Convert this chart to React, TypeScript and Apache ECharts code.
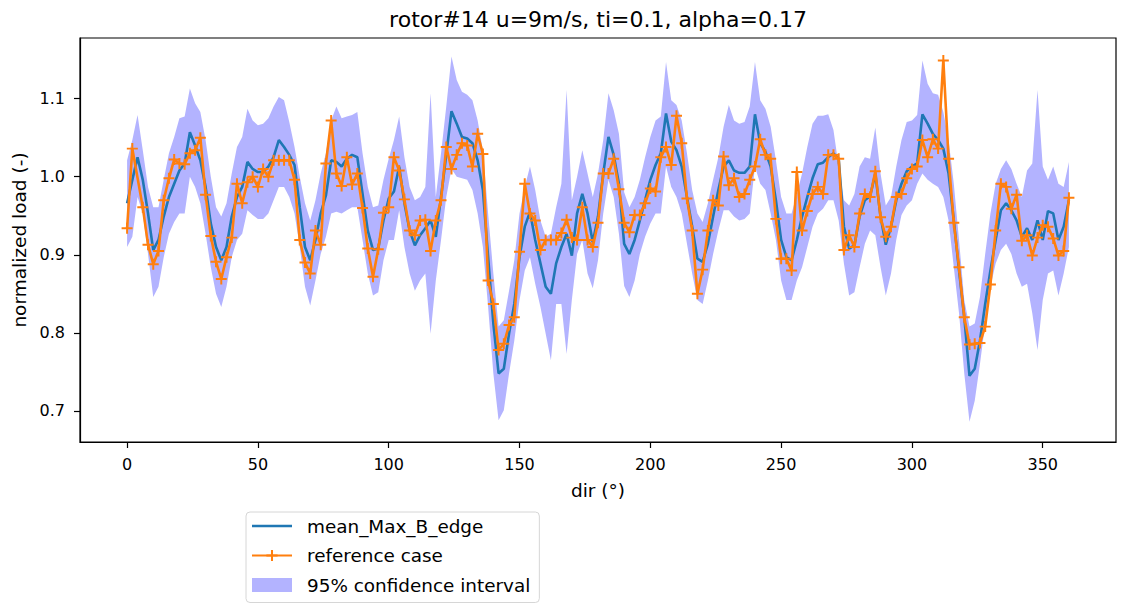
import React, { useEffect, useRef } from "react";
import * as echarts from "echarts";

// wind direction (deg)
const DIR = [
  0, 2, 4, 6, 8, 10, 12, 14, 16, 18,
  20, 22, 24, 26, 28, 30, 32, 34, 36, 38,
  40, 42, 44, 46, 48, 50, 52, 54, 56, 58,
  60, 62, 64, 66, 68, 70, 72, 74, 76, 78,
  80, 82, 84, 86, 88, 90, 92, 94, 96, 98,
  100, 102, 104, 106, 108, 110, 112, 114, 116, 118,
  120, 122, 124, 126, 128, 130, 132, 134, 136, 138,
  140, 142, 144, 146, 148, 150, 152, 154, 156, 158,
  160, 162, 164, 166, 168, 170, 172, 174, 176, 178,
  180, 182, 184, 186, 188, 190, 192, 194, 196, 198,
  200, 202, 204, 206, 208, 210, 212, 214, 216, 218,
  220, 222, 224, 226, 228, 230, 232, 234, 236, 238,
  240, 242, 244, 246, 248, 250, 252, 254, 256, 258,
  260, 262, 264, 266, 268, 270, 272, 274, 276, 278,
  280, 282, 284, 286, 288, 290, 292, 294, 296, 298,
  300, 302, 304, 306, 308, 310, 312, 314, 316, 318,
  320, 322, 324, 326, 328, 330, 332, 334, 336, 338,
  340, 342, 344, 346, 348, 350, 352, 354, 356, 358,
  360,
];

const MEAN = [
  0.966, 0.996, 1.025, 0.996, 0.953, 0.906, 0.919, 0.949, 0.974, 0.991,
  1.008, 1.017, 1.057, 1.040, 1.021, 0.987, 0.940, 0.910, 0.893, 0.910,
  0.949, 0.974, 0.987, 1.019, 1.010, 1.006, 1.006, 1.013, 1.025, 1.047,
  1.038, 1.028, 1.015, 0.961, 0.910, 0.893, 0.919, 0.953, 0.976, 1.021,
  1.019, 1.013, 1.023, 1.028, 1.025, 0.978, 0.931, 0.906, 0.908, 0.944,
  0.972, 0.981, 1.013, 0.966, 0.931, 0.912, 0.925, 0.934, 0.944, 0.923,
  0.974, 1.028, 1.084, 1.068, 1.051, 1.049, 1.043, 1.021, 0.983, 0.897,
  0.812, 0.748, 0.754, 0.799, 0.837, 0.897, 0.936, 0.955, 0.919, 0.889,
  0.859, 0.850, 0.889, 0.910, 0.927, 0.899, 0.953, 0.978, 0.953, 0.916,
  0.949, 1.004, 1.051, 1.028, 0.991, 0.914, 0.901, 0.919, 0.944, 0.970,
  0.996, 1.015, 1.030, 1.081, 1.045, 1.034, 1.013, 0.974, 0.936, 0.895,
  0.891, 0.914, 0.949, 0.983, 1.013, 1.021, 1.008, 1.005, 1.005, 1.013,
  1.080, 1.043, 1.032, 1.013, 0.970, 0.919, 0.897, 0.893, 0.919, 0.949,
  0.974, 0.998, 1.016, 1.018, 1.025, 1.030, 1.023, 0.936, 0.908, 0.912,
  0.949, 0.970, 0.975, 1.004, 0.949, 0.913, 0.936, 0.970, 0.991, 1.007,
  1.013, 1.017, 1.080, 1.068, 1.055, 1.047, 1.036, 1.004, 0.944, 0.880,
  0.820, 0.745, 0.754, 0.790, 0.837, 0.880, 0.919, 0.957, 0.966, 0.957,
  0.944, 0.923, 0.934, 0.919, 0.944, 0.919, 0.956, 0.953, 0.919, 0.936,
  0.970,
];

// reference case (no sample visible at 4 deg)
const REF = [
  0.934, 1.036, null, 0.961, 0.913, 0.888, 0.905, 0.970, 0.998, 1.022,
  1.017, 1.016, 1.030, 1.034, 1.050, 0.977, 0.924, 0.891, 0.869, 0.897,
  0.922, 0.991, 0.966, 0.993, 1.000, 0.987, 1.010, 1.000, 1.021, 1.021,
  1.021, 1.021, 0.996, 0.919, 0.890, 0.876, 0.931, 0.913, 1.017, 1.072,
  1.004, 0.988, 1.025, 0.990, 1.004, 0.960, 0.908, 0.872, 0.907, 0.954,
  0.961, 1.025, 1.008, 0.971, 0.931, 0.925, 0.944, 0.945, 0.905, 0.944,
  0.970, 1.038, 1.010, 1.028, 1.043, 1.040, 1.013, 1.055, 1.029, 0.867,
  0.837, 0.778, 0.786, 0.810, 0.820, 0.904, 0.991, 0.953, 0.944, 0.906,
  0.919, 0.919, 0.919, 0.928, 0.945, 0.922, 0.919, 0.961, 0.919, 0.910,
  0.941, 1.004, 1.004, 1.023, 0.984, 0.941, 0.929, 0.951, 0.951, 0.966,
  0.985, 0.981, 1.025, 1.038, 1.015, 1.078, 1.043, 0.972, 0.931, 0.850,
  0.881, 0.931, 0.970, 0.963, 1.026, 0.989, 0.998, 0.974, 0.978, 0.996,
  1.013, 1.048, 1.028, 1.023, 0.946, 0.895, 0.895, 0.880, 1.006, 0.931,
  0.956, 0.978, 0.987, 0.978, 1.028, 1.028, 1.023, 0.906, 0.925, 0.910,
  0.953, 0.978, 0.974, 1.007, 0.948, 0.923, 0.936, 0.974, 0.978, 0.998,
  1.010, 1.013, 1.047, 1.025, 1.048, 1.036, 1.149, 1.023, 0.941, 0.884,
  0.820, 0.785, 0.786, 0.787, 0.808, 0.862, 0.931, 0.991, 0.987, 0.959,
  0.977, 0.918, 0.925, 0.899, 0.922, 0.938, 0.936, 0.921, 0.899, 0.905,
  0.973,
];

const UPPER = [
  1.021, 1.047, 1.079, 1.034, 0.987, 0.961, 0.961, 0.996, 1.030, 1.051,
  1.075, 1.077, 1.113, 1.094, 1.083, 1.047, 1.000, 0.961, 0.949, 0.966,
  1.004, 1.038, 1.051, 1.087, 1.072, 1.066, 1.068, 1.075, 1.090, 1.102,
  1.098, 1.070, 1.038, 1.000, 0.966, 0.944, 0.970, 1.004, 1.030, 1.072,
  1.090, 1.075, 1.077, 1.079, 1.083, 1.030, 0.987, 0.961, 0.963, 0.996,
  1.023, 1.047, 1.077, 1.025, 0.987, 0.970, 0.974, 0.987, 1.107, 0.974,
  1.030, 1.090, 1.154, 1.124, 1.109, 1.105, 1.098, 1.072, 1.034, 0.953,
  0.876, 0.808, 0.816, 0.854, 0.893, 0.953, 0.987, 1.013, 0.983, 0.944,
  0.923, 0.927, 0.961, 0.991, 1.111, 0.970, 1.000, 1.034, 1.004, 0.974,
  1.004, 1.047, 1.107, 1.085, 1.055, 0.980, 0.961, 0.974, 0.996, 1.025,
  1.051, 1.072, 1.077, 1.147, 1.098, 1.092, 1.072, 1.030, 0.983, 0.953,
  0.942, 0.966, 0.996, 1.025, 1.064, 1.092, 1.072, 1.068, 1.070, 1.090,
  1.147, 1.098, 1.087, 1.064, 1.021, 0.974, 0.953, 0.953, 0.978, 1.004,
  1.038, 1.068, 1.078, 1.078, 1.080, 1.060, 1.013, 0.970, 0.963, 0.978,
  1.013, 1.025, 1.023, 1.063, 1.004, 0.963, 0.974, 1.013, 1.047, 1.070,
  1.072, 1.079, 1.149, 1.119, 1.107, 1.105, 1.083, 1.047, 0.991, 0.919,
  0.842, 0.808, 0.812, 0.846, 0.901, 0.953, 0.991, 1.010, 1.021, 1.010,
  0.991, 0.974, 1.008, 1.017, 1.111, 1.013, 0.996, 1.013, 0.991, 0.987,
  1.019,
];

const LOWER = [
  0.910, 0.923, 0.974, 0.953, 0.901, 0.846, 0.859, 0.897, 0.927, 0.942,
  0.953, 0.953, 1.000, 0.987, 0.966, 0.927, 0.884, 0.850, 0.833, 0.859,
  0.897, 0.919, 0.927, 0.957, 0.951, 0.946, 0.946, 0.953, 0.970, 0.987,
  0.987, 0.974, 0.953, 0.910, 0.859, 0.835, 0.867, 0.901, 0.923, 0.953,
  0.955, 0.953, 0.957, 0.961, 0.961, 0.919, 0.876, 0.848, 0.852, 0.893,
  0.919, 0.919, 0.957, 0.910, 0.876, 0.854, 0.867, 0.876, 0.799, 0.867,
  0.919, 0.974, 1.010, 1.000, 0.998, 0.996, 0.983, 0.953, 0.910, 0.833,
  0.748, 0.688, 0.701, 0.748, 0.790, 0.842, 0.880, 0.897, 0.863, 0.833,
  0.799, 0.765, 0.837, 0.837, 0.773, 0.842, 0.901, 0.919, 0.876, 0.857,
  0.893, 0.953, 0.996, 0.974, 0.927, 0.860, 0.846, 0.867, 0.901, 0.923,
  0.940, 0.953, 0.953, 1.013, 0.987, 0.974, 0.953, 0.914, 0.876, 0.842,
  0.837, 0.867, 0.901, 0.931, 0.957, 0.957, 0.949, 0.944, 0.946, 0.953,
  1.013, 0.991, 0.983, 0.953, 0.919, 0.867, 0.842, 0.842, 0.867, 0.884,
  0.910, 0.936, 0.953, 0.959, 0.970, 0.970, 0.944, 0.889, 0.848, 0.852,
  0.884, 0.914, 0.931, 0.925, 0.884, 0.848, 0.876, 0.919, 0.951, 0.963,
  0.970, 0.991, 1.004, 0.996, 0.991, 0.987, 0.974, 0.944, 0.884, 0.825,
  0.748, 0.686, 0.713, 0.760, 0.812, 0.859, 0.889, 0.906, 0.914, 0.901,
  0.876, 0.859, 0.863, 0.825, 0.778, 0.842, 0.876, 0.880, 0.848, 0.876,
  0.910,
];

const X_TICKS = [0, 50, 100, 150, 200, 250, 300, 350];
const Y_TICKS = [0.7, 0.8, 0.9, 1.0, 1.1];

const TITLE = "rotor#14 u=9m/s, ti=0.1, alpha=0.17";
const MEAN_NAME = "mean_Max_B_edge";
const REF_NAME = "reference case";
const CI_NAME = "95% confidence interval";

const FONT = "DejaVu Sans";
const BLUE = "#1f77b4";
const ORANGE = "#ff7f0e";
const BAND = "#b3b3ff";
const PLUS = "path://M0,4.1H10V5.9H0Z M4.1,0H5.9V10H4.1Z";
const LINE_ICON = "path://M0,0L0,0Z M0,5.7H40V8.3H0Z M40,14L40,14Z";

export default function App() {
  const ref = useRef<HTMLDivElement>(null);

  useEffect(() => {
    if (!ref.current) return;
    const chart = echarts.init(ref.current, null, { renderer: "svg" });

    const bandData = DIR.map((d, i) => [d, LOWER[i], UPPER[i]]);
    const meanData = DIR.map((d, i) => [d, MEAN[i]]);
    const refData = DIR.map((d, i) => [d, REF[i] === null ? "-" : REF[i]]);

    const axisLine = { show: true, onZero: false, lineStyle: { color: "#000", width: 1.2 } };
    const axisTickStyle = { lineStyle: { color: "#000", width: 1.2 }, length: 6 };

    chart.setOption({
      animation: false,
      backgroundColor: "#fff",
      title: {
        text: TITLE,
        left: 598,
        top: 8,
        padding: 0,
        textAlign: "center",
        textStyle: { fontFamily: FONT, fontSize: 22, fontWeight: "normal", color: "#000" },
      },
      grid: {
        left: 80,
        right: 6,
        top: 38,
        bottom: 165,
        show: true,
        borderColor: "#000",
        borderWidth: 1.2,
        containLabel: false,
        outerBoundsMode: "none",
      },
      legend: {
        data: [
          { name: MEAN_NAME, icon: LINE_ICON, itemStyle: { color: BLUE } },
          { name: REF_NAME },
          { name: CI_NAME, icon: "rect", itemStyle: { color: BAND } },
        ],
        orient: "vertical",
        left: 246,
        top: 512,
        itemWidth: 40,
        itemHeight: 14,
        itemGap: 11.5,
        padding: [5, 9, 8.5, 5],
        backgroundColor: "#fff",
        borderColor: "#d6d6d6",
        borderWidth: 1,
        borderRadius: 4,
        selectedMode: false,
        textStyle: { fontFamily: FONT, fontSize: 18.4, color: "#000", padding: [0, 0, 0, 10] },
      },
      xAxis: {
        type: "value",
        min: -18,
        max: 378,
        name: "dir (°)",
        nameLocation: "middle",
        nameGap: 39,
        nameTextStyle: { fontFamily: FONT, fontSize: 18.5, color: "#000" },
        axisLine,
        axisTick: { show: true, customValues: X_TICKS, ...axisTickStyle },
        axisLabel: {
          customValues: X_TICKS,
          margin: 14,
          fontFamily: FONT,
          fontSize: 16,
          color: "#000",
          formatter: (v: number) => String(v),
        },
        splitLine: { show: false },
      },
      yAxis: {
        type: "value",
        min: 0.6602,
        max: 1.1777,
        name: "normalized load (-)",
        nameLocation: "middle",
        nameGap: 49,
        nameTextStyle: { fontFamily: FONT, fontSize: 18.5, color: "#000" },
        axisLine,
        axisTick: { show: true, customValues: Y_TICKS, ...axisTickStyle },
        axisLabel: {
          customValues: Y_TICKS,
          margin: 15,
          fontFamily: FONT,
          fontSize: 16,
          color: "#000",
          formatter: (v: number) => v.toFixed(1),
        },
        splitLine: { show: false },
      },
      series: [
        {
          name: CI_NAME,
          type: "custom",
          data: bandData,
          encode: { x: 0, y: [1, 2] },
          itemStyle: { color: BAND },
          silent: true,
          z: 1,
          renderItem: (params: any, api: any) => {
            if (params.dataIndex !== 0) return null;
            const pts: number[][] = [];
            for (let j = 0; j < DIR.length; j++) pts.push(api.coord([DIR[j], UPPER[j]]));
            for (let j = DIR.length - 1; j >= 0; j--) pts.push(api.coord([DIR[j], LOWER[j]]));
            return {
              type: "polygon",
              shape: { points: pts },
              style: { fill: BAND, stroke: "none" },
              silent: true,
            };
          },
        },
        {
          name: MEAN_NAME,
          type: "line",
          data: meanData,
          symbol: "none",
          lineStyle: { color: BLUE, width: 2.6 },
          itemStyle: { color: BLUE },
          emphasis: { disabled: true },
          z: 3,
        },
        {
          name: REF_NAME,
          type: "line",
          data: refData,
          connectNulls: true,
          symbol: PLUS,
          symbolSize: 11,
          showAllSymbol: true,
          lineStyle: { color: ORANGE, width: 2.6 },
          itemStyle: { color: ORANGE },
          emphasis: { disabled: true },
          z: 4,
        },
      ],
    });

    return () => chart.dispose();
  }, []);

  return (
    <div
      ref={ref}
      style={{ position: "fixed", left: 0, top: 0, width: 1122, height: 607 }}
    />
  );
}
